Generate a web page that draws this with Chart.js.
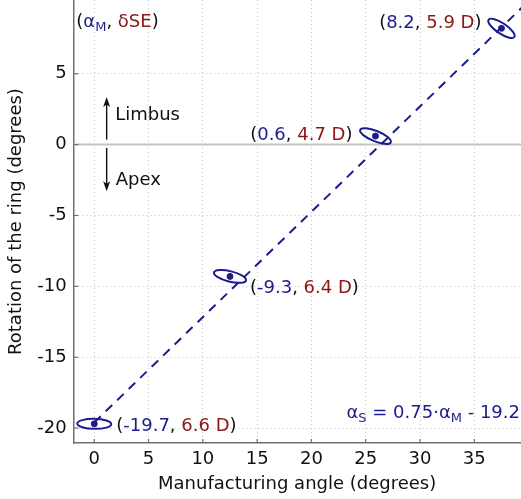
<!DOCTYPE html>
<html>
<head>
<meta charset="utf-8">
<script src="https://cdn.jsdelivr.net/npm/chart.js@4.4.1/dist/chart.umd.min.js"></script>
<style>
  html, body { margin: 0; padding: 0; background: #fff; }
</style>
</head>
<body>
<canvas id="ringChart" width="521" height="499"></canvas>
<script>
// Ring rotation against manufacturing angle, one entry per lens
const manufAngle = [0, 12.5, 25.9, 37.5];
const ringRotation = [-19.7, -9.3, 0.6, 8.2];
const sphEquivalent = [6.6, 6.4, 4.7, 5.9];

// Dashed regression line, given by its two ends
const fitAngle = [0, 39.5];
const fitRotation = [-19.6, 9.75];

const xTickValues = [0, 5, 10, 15, 20, 25, 30, 35];
const yTickValues = [-20, -15, -10, -5, 0, 5];
const xRange = [-1.93, 39.3];
const yRange = [-21.05, 10.2];

const NAVY = '#1c1c8c';
const DARKRED = '#8c1616';
const INK = '#111111';
const FAMILY = '"DejaVu Sans", "Liberation Sans", Arial, sans-serif';
const mainFont = '18px ' + FAMILY;
const subFont = '13px ' + FAMILY;

Chart.defaults.font.family = FAMILY;
Chart.defaults.font.size = 18;
Chart.defaults.color = INK;

// ellipse outline per lens: half axes in px and tilt in degrees (clockwise)
const ellipseStyle = [
    { rx: 17, ry: 5, tilt: 1 },
    { rx: 16.5, ry: 5.2, tilt: 14 },
    { rx: 16.5, ry: 5.2, tilt: 22 },
    { rx: 15.5, ry: 5.2, tilt: 34 }
];
// where each "(rotation, SE)" label sits relative to its point
const labelStyle = [
    { dx: 22, dy: 7, align: 'left' },
    { dx: 20, dy: 16.5, align: 'left' },
    { dx: -23, dy: 3.5, align: 'right' },
    { dx: -20, dy: 0, align: 'right' }
];

function drawRich(ctx, parts, x, y, align) {
    const widths = parts.map(p => {
        ctx.font = p.sub ? subFont : mainFont;
        return ctx.measureText(p.t).width;
    });
    const total = widths.reduce((s, w) => s + w, 0);
    let cx = align === 'right' ? x - total : x;
    ctx.textAlign = 'left';
    ctx.textBaseline = 'alphabetic';
    parts.forEach((p, i) => {
        ctx.font = p.sub ? subFont : mainFont;
        ctx.fillStyle = p.c;
        ctx.fillText(p.t, cx, p.sub ? y + 4 : y);
        cx += widths[i];
    });
}

function drawArrow(ctx, x, y0, y1) {
    const dir = y1 < y0 ? -1 : 1;
    ctx.strokeStyle = INK;
    ctx.fillStyle = INK;
    ctx.lineWidth = 1.4;
    ctx.beginPath();
    ctx.moveTo(x, y0);
    ctx.lineTo(x, y1 - dir * 6);
    ctx.stroke();
    ctx.beginPath();
    ctx.moveTo(x, y1);
    ctx.lineTo(x - 3.5, y1 - dir * 10);
    ctx.lineTo(x, y1 - dir * 7.5);
    ctx.lineTo(x + 3.5, y1 - dir * 10);
    ctx.closePath();
    ctx.fill();
}

// stretch the plot to the top and right edges of the canvas
const edgeToEdge = {
    id: 'edgeToEdge',
    afterLayout(chart) {
        const { x, y } = chart.scales;
        const a = chart.chartArea;
        a.top = 0;
        a.right = chart.width;
        a.width = a.right - a.left;
        a.height = a.bottom - a.top;
        y.top = 0;
        y.height = y.bottom - y.top;
        x.right = chart.width;
        x.width = x.right - x.left;
        x.configure();
        y.configure();
    }
};

// ellipses, value labels, inward ticks and annotations
const ringMarks = {
    id: 'ringMarks',
    afterDatasetsDraw(chart) {
        const { ctx, chartArea: a, scales: { x, y } } = chart;
        ctx.save();

        manufAngle.forEach((v, i) => {
            const px = x.getPixelForValue(v);
            const py = y.getPixelForValue(ringRotation[i]);
            const e = ellipseStyle[i];
            ctx.beginPath();
            ctx.ellipse(px, py, e.rx, e.ry, e.tilt * Math.PI / 180, 0, Math.PI * 2);
            ctx.strokeStyle = NAVY;
            ctx.lineWidth = 2;
            ctx.stroke();

            const l = labelStyle[i];
            drawRich(ctx, [
                { t: '(', c: INK },
                { t: ringRotation[i].toFixed(1), c: NAVY },
                { t: ', ', c: INK },
                { t: sphEquivalent[i].toFixed(1) + ' D', c: DARKRED },
                { t: ')', c: INK }
            ], px + l.dx, py + l.dy, l.align);
        });

        // inward tick marks
        ctx.strokeStyle = '#707070';
        ctx.lineWidth = 1.2;
        x.ticks.forEach(t => {
            const px = x.getPixelForValue(t.value);
            ctx.beginPath();
            ctx.moveTo(px, a.bottom);
            ctx.lineTo(px, a.bottom - 4);
            ctx.stroke();
        });
        y.ticks.forEach(t => {
            const py = y.getPixelForValue(t.value);
            ctx.beginPath();
            ctx.moveTo(a.left, py);
            ctx.lineTo(a.left + 5, py);
            ctx.stroke();
        });

        drawRich(ctx, [
            { t: '(', c: INK },
            { t: 'α', c: NAVY },
            { t: 'M', c: NAVY, sub: true },
            { t: ', ', c: INK },
            { t: 'δSE', c: DARKRED },
            { t: ')', c: INK }
        ], a.left + 3, a.top + 27, 'left');

        drawRich(ctx, [
            { t: 'α', c: NAVY },
            { t: 'S', c: NAVY, sub: true },
            { t: ' = 0.75·α', c: NAVY },
            { t: 'M', c: NAVY, sub: true },
            { t: ' - 19.2', c: NAVY }
        ], a.right - 1, a.bottom - 25, 'right');

        // Limbus / Apex direction arrows around the zero line
        const zy = y.getPixelForValue(0);
        const ax = x.getPixelForValue(0) + 12.4;
        drawArrow(ctx, ax, zy - 5, zy - 47.7);
        drawArrow(ctx, ax, zy + 3.3, zy + 46.7);
        drawRich(ctx, [{ t: 'Limbus', c: INK }], ax + 8.5, zy - 25, 'left');
        drawRich(ctx, [{ t: 'Apex', c: INK }], ax + 9, zy + 40, 'left');

        ctx.restore();
    }
};

const ctx = document.getElementById('ringChart').getContext('2d');

new Chart(ctx, {
    type: 'scatter',
    data: {
        datasets: [
            {
                label: 'zero',
                type: 'line',
                data: [{ x: xRange[0], y: 0 }, { x: xRange[1], y: 0 }],
                borderColor: '#c4c4c4',
                borderWidth: 2,
                pointRadius: 0,
                order: 3
            },
            {
                label: 'fit',
                type: 'line',
                data: fitAngle.map((v, i) => ({ x: v, y: fitRotation[i] })),
                borderColor: NAVY,
                borderWidth: 2,
                borderDash: [9, 7],
                pointRadius: 0,
                order: 2
            },
            {
                label: 'lenses',
                data: manufAngle.map((v, i) => ({ x: v, y: ringRotation[i] })),
                backgroundColor: NAVY,
                borderColor: NAVY,
                pointRadius: 3,
                order: 1
            }
        ]
    },
    options: {
        responsive: false,
        animation: false,
        layout: { padding: 0 },
        plugins: { legend: { display: false }, tooltip: { enabled: false } },
        scales: {
            x: {
                type: 'linear',
                position: 'bottom',
                min: xRange[0],
                max: xRange[1],
                afterBuildTicks: s => { s.ticks = xTickValues.map(v => ({ value: v })); },
                afterFit: s => { s.height = 56; },
                grid: { color: '#c4c4c4', lineWidth: 1, drawTicks: false },
                border: { color: '#707070', width: 1.5, dash: [1, 3] },
                ticks: { padding: 6, color: INK, font: { size: 18 } },
                title: {
                    display: true,
                    text: 'Manufacturing angle (degrees)',
                    color: INK,
                    font: { size: 18 },
                    padding: { top: 4, bottom: 4 }
                }
            },
            y: {
                type: 'linear',
                position: 'left',
                min: yRange[0],
                max: yRange[1],
                afterBuildTicks: s => { s.ticks = yTickValues.map(v => ({ value: v })); },
                afterFit: s => { s.width = 73.3; },
                grid: { color: ctx => ctx.tick && ctx.tick.value === 0 ? 'rgba(0,0,0,0)' : '#c4c4c4', lineWidth: 1, drawTicks: false },
                border: { color: '#707070', width: 1.5, dash: [1, 3] },
                ticks: { padding: 6.6, color: INK, font: { size: 18 } },
                title: {
                    display: true,
                    text: 'Rotation of the ring (degrees)',
                    color: INK,
                    font: { size: 18 },
                    padding: { top: 6, bottom: 6 }
                }
            }
        }
    },
    plugins: [edgeToEdge, ringMarks]
});
</script>
</body>
</html>
